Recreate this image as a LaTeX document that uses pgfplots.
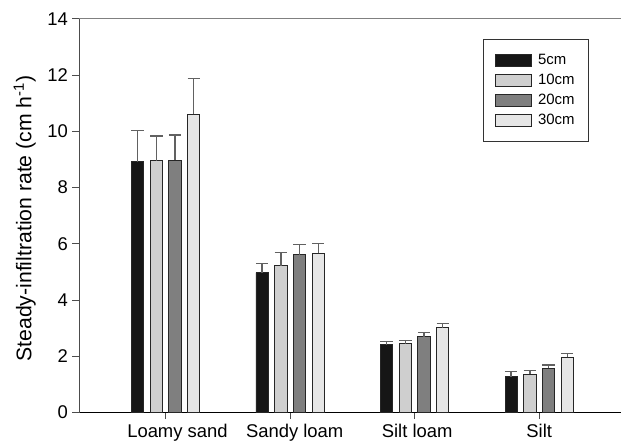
\documentclass[border=0pt]{standalone}
\usepackage{fontspec}
\setmainfont{Liberation Sans}
\usepackage{pgfplots}
\pgfplotsset{compat=1.18}
\definecolor{cA}{HTML}{161616}
\definecolor{cB}{HTML}{CFCFCF}
\definecolor{cC}{HTML}{7F7F7F}
\definecolor{cD}{HTML}{E6E6E6}
\pgfplotsset{lg/.style={legend image code/.code={\draw[##1,line width=0.9bp] (0bp,-6bp) rectangle (36bp,6bp);}}}
\begin{document}
\begin{tikzpicture}
\begin{axis}[
  scale only axis, width=542bp, height=393.8bp,
  xmin=-0.696, xmax=3.657, ymin=0, ymax=14,
  axis x line*=bottom, axis y line*=left,
  x axis line style={-, black, line width=0.9bp},
  y axis line style={-, black!70, line width=0.9bp},
  ybar=6.4bp, bar width=12.3bp,
  xtick={0,1,2,3},
  xticklabels={\hspace{23.6bp}Loamy sand,\hspace{9bp}Sandy loam,\hspace{5bp}Silt loam,Silt},
  ytick={0,2,...,14},
  tick align=outside, major tick length=6.5bp,
  tick style={black!70, line width=0.9bp},
  /pgf/number format/assume math mode=true,
  tick label style={font=\fontsize{18.5}{20}\selectfont},
  yticklabel style={xshift=-1bp},
  xticklabel style={yshift=-2bp},
  ylabel={Steady-infiltration rate (cm h\textsuperscript{-1})},
  ylabel style={at={([xshift=-43bp]rel axis cs:0,0.4926)}, anchor=south, inner sep=0pt, font=\fontsize{21.3}{23}\selectfont},
  error bars/y dir=plus, error bars/y explicit,
  error bars/error bar style={line width=1.4bp, black!62},
  error bars/error mark options={rotate=90, mark size=6.2bp, line width=1.4bp, black!62},
  legend style={at={(rel axis cs:0.745,0.948)}, anchor=north west, draw=black!80, line width=0.8bp,
    font=\fontsize{15}{17}\selectfont, inner xsep=12bp, inner ysep=13bp, row sep=4bp},
  legend cell align=left,
]
\addplot[fill=cA, draw=black!85, line width=0.9bp, lg] coordinates {
  (0,8.92) +- (0,1.10) (1,4.97) +- (0,0.32) (2,2.41) +- (0,0.12) (3,1.27) +- (0,0.18)};
\addplot[fill=cB, draw=black!85, line width=0.9bp, lg] coordinates {
  (0,8.95) +- (0,0.88) (1,5.22) +- (0,0.46) (2,2.45) +- (0,0.12) (3,1.36) +- (0,0.13)};
\addplot[fill=cC, draw=black!85, line width=0.9bp, lg] coordinates {
  (0,8.97) +- (0,0.90) (1,5.61) +- (0,0.37) (2,2.69) +- (0,0.15) (3,1.57) +- (0,0.12)};
\addplot[fill=cD, draw=black!85, line width=0.9bp, lg] coordinates {
  (0,10.60) +- (0,1.27) (1,5.66) +- (0,0.35) (2,3.01) +- (0,0.15) (3,1.96) +- (0,0.13)};
\legend{\hspace{4bp}5cm,\hspace{4bp}10cm,\hspace{4bp}20cm,\hspace{4bp}30cm}
\draw[black!50, line width=1.2bp] (rel axis cs:0,1) -- (rel axis cs:1,1);
\coordinate (ll) at (rel axis cs:0,0);
\coordinate (ur) at (rel axis cs:1,1);
\end{axis}
\pgfresetboundingbox
\path ([shift={(-79bp,-33.5bp)}]ll) rectangle ([shift={(0bp,18.7bp)}]ur);
\end{tikzpicture}
\end{document}
